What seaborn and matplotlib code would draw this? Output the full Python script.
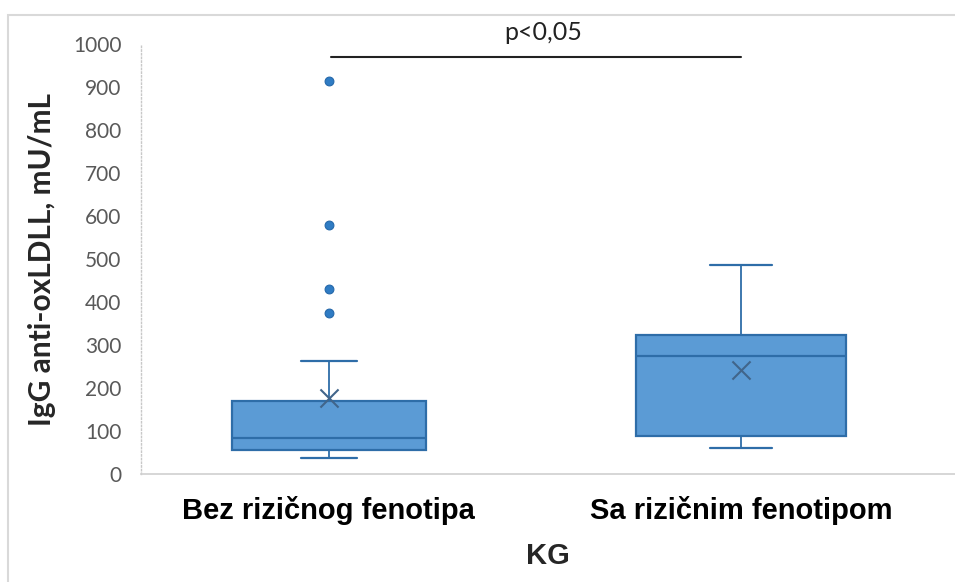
import matplotlib
matplotlib.use("Agg")
import matplotlib.pyplot as plt
from matplotlib.patches import Rectangle
import seaborn as sns
import pandas as pd

# ---- data ----
categories = ["Bez rizičnog fenotipa", "Sa rizičnim fenotipom"]
q1 = [56, 88]
median = [83, 274]
q3 = [170, 323]
whisker_low = [37, 60]
whisker_high = [263, 486]
means = [177, 243]
outliers_group = ["Bez rizičnog fenotipa"] * 4
outliers_values = [914, 579, 430, 375]
y_ticks = [0, 100, 200, 300, 400, 500, 600, 700, 800, 900, 1000]
p_text = "p<0,05"

sns.set_style("white")
plt.rcParams["font.family"] = ["Lato", "DejaVu Sans"]

fig = plt.figure(figsize=(9.55, 5.82), dpi=100)
ax = fig.add_axes([141 / 955, 1 - 474 / 582, 1 - 141 / 955, (474 - 44) / 582])

box_fill = "#5B9BD5"
box_edge = "#2E6DA8"

stats = []
for i, c in enumerate(categories):
    stats.append(dict(label=c, q1=q1[i], med=median[i], q3=q3[i],
                      whislo=whisker_low[i], whishi=whisker_high[i], fliers=[]))
ax.bxp(stats, positions=[0, 1], widths=[0.47, 0.51], capwidths=[0.136, 0.15],
       patch_artist=True, showfliers=False,
       boxprops=dict(facecolor=box_fill, edgecolor=box_edge, linewidth=1.6),
       medianprops=dict(color=box_edge, linewidth=1.6),
       whiskerprops=dict(color=box_edge, linewidth=1.3),
       capprops=dict(color=box_edge, linewidth=1.6))

cat_pos = {c: i for i, c in enumerate(categories)}
df_out = pd.DataFrame({"x": [cat_pos[g] for g in outliers_group], "y": outliers_values})
sns.scatterplot(data=df_out, x="x", y="y", ax=ax, marker="o", s=40,
                color="#2F7CC4", edgecolor="#2468AA", linewidth=0.8, zorder=5)
df_mean = pd.DataFrame({"x": list(range(len(categories))), "y": means})
sns.scatterplot(data=df_mean, x="x", y="y", ax=ax, marker="x", s=170,
                color="#41658A", linewidth=1.5, zorder=6)

ax.set_xlim(-0.456, 1.52)
ax.set_ylim(0, 1000)
ax.set_yticks(y_ticks)
ax.set_yticklabels([str(v) for v in y_ticks], fontsize=15, color="#595959")
ax.set_xticks([0, 1])
ax.set_xticklabels(categories, fontsize=21, fontweight="bold",
                   family=["Liberation Sans", "DejaVu Sans"], color="black")
ax.tick_params(axis="y", length=0, pad=14)
ax.tick_params(axis="x", length=0, pad=16)
ax.set_xlabel("KG", fontsize=21, fontweight="bold",
              family=["Liberation Sans", "DejaVu Sans"], labelpad=12)
ax.set_ylabel("IgG anti-oxLDLL, mU/mL", fontsize=21.5, fontweight="bold", labelpad=12)

for s in ["top", "right"]:
    ax.spines[s].set_visible(False)
ax.spines["left"].set_color("#C8C8C8")
ax.spines["left"].set_linestyle(":")
ax.spines["left"].set_linewidth(1.0)
ax.spines["bottom"].set_color("#D0D0D0")
ax.spines["bottom"].set_linewidth(1.2)
ax.grid(False)

# significance bar
ax.plot([0.005, 1.0], [970, 970], color="#222222", linewidth=1.5,
        clip_on=False, zorder=4)
ax.text(0.52, 1000, p_text, ha="center", va="bottom", fontsize=18,
        color="#222222", clip_on=False)

# outer chart border
fig.patches.append(Rectangle((8 / 955, -0.05), 1.2, 1 - 15 / 582 + 0.05,
                             transform=fig.transFigure, fill=False,
                             edgecolor="#D9D9D9", linewidth=1.5))

fig.savefig("out.png", dpi=100)
